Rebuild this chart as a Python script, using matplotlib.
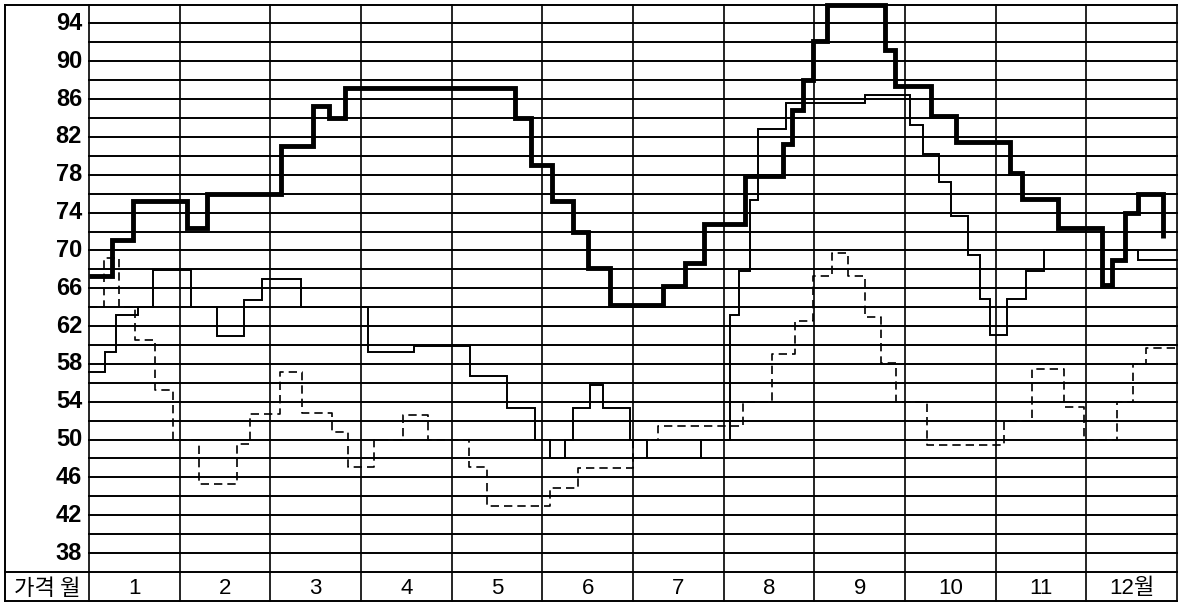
import numpy as np
import matplotlib.pyplot as plt

# step data: x = month position where a price level starts (0 = start of Jan), y = price
thick_x = [0, 0.25, 0.49, 1.08, 1.30, 2.12, 2.47, 2.65, 2.82, 4.70, 4.88, 5.11,
           5.34, 5.50, 5.75, 6.33, 6.57, 6.78, 7.23, 7.65, 7.75, 7.88, 7.99, 8.14,
           8.78, 8.89, 9.29, 9.56, 10.16, 10.29, 10.69, 11.17, 11.28, 11.43, 11.57, 11.84]
thick_y = [67.3, 71.1, 75.2, 72.4, 76.0, 81.0, 85.3, 84.0, 87.2, 84.0, 79.0, 75.2,
           72.0, 68.1, 64.2, 66.2, 68.7, 72.8, 77.9, 81.3, 84.9, 88.0, 92.1, 96.0,
           91.2, 87.4, 84.2, 81.5, 78.2, 75.4, 72.4, 66.3, 69.0, 74.0, 76.0, 71.3]

thin_x = [0, 0.18, 0.30, 0.54, 0.71, 1.13, 1.41, 1.71, 1.91, 2.34, 3.08, 3.58,
          4.20, 4.61, 4.92, 5.08, 5.25, 5.34, 5.53, 5.67, 5.97, 6.15, 6.75, 7.07,
          7.17, 7.29, 7.38, 7.69, 8.56, 9.06, 9.20, 9.38, 9.51, 9.70, 9.83, 9.94,
          10.13, 10.33, 10.53, 11.57, 12.0]
thin_y = [57.1, 59.3, 63.2, 64.0, 67.9, 64.0, 61.0, 64.8, 67.0, 64.0, 59.3, 59.9,
          56.7, 53.3, 50.0, 48.1, 50.0, 53.3, 55.8, 53.3, 50.0, 48.1, 50.0, 63.2,
          67.8, 75.3, 82.8, 85.6, 86.4, 83.3, 80.2, 77.2, 73.6, 69.5, 64.9, 61.1,
          64.9, 67.8, 70.0, 69.0, 69.0]

dash_x = [0, 0.17, 0.33, 0.51, 0.73, 0.93, 1.21, 1.63, 1.78, 2.11, 2.35, 2.68,
          2.86, 3.14, 3.46, 3.74, 4.19, 4.39, 5.09, 5.39, 6.00, 6.28, 7.21, 7.53,
          7.79, 7.99, 8.19, 8.37, 8.56, 8.73, 8.90, 9.24, 10.09, 10.40, 10.75, 10.97,
          11.34, 11.52, 11.66, 12.0]
dash_y = [64.0, 69.2, 64.0, 60.5, 55.2, 50.0, 45.3, 49.5, 52.7, 57.1, 52.8, 50.8,
          47.1, 50.0, 52.6, 50.0, 47.1, 43.0, 44.9, 47.0, 50.0, 51.4, 54.0, 59.0,
          62.5, 67.3, 69.7, 67.3, 63.0, 58.1, 54.0, 49.4, 52.0, 57.5, 53.4, 50.0,
          54.0, 58.0, 59.7, 59.7]

y_labels = list(range(38, 95, 4))
month_labels = ['1', '2', '3', '4', '5', '6', '7', '8', '9', '10', '11', '12월']

fig = plt.figure(figsize=(11.82, 6.03), dpi=100)
ax = fig.add_axes([0, 0, 1, 1])
ax.set_xlim(-0.9816, 12.055)
ax.set_ylim(32.72, 96.48)
ax.axis('off')

left = -0.926
bottom = 32.88

# grid
for v in np.arange(36, 97, 2):
    ax.plot([0, 12], [v, v], color='black', lw=1.4, zorder=1)
for m in range(13):
    ax.plot([m, m], [bottom, 96], color='black', lw=1.2, zorder=1)
ax.plot([left, 0], [96, 96], color='black', lw=1.4)
ax.plot([left, 0], [36, 36], color='black', lw=1.4)
ax.plot([left, 12], [bottom, bottom], color='black', lw=1.4)
ax.plot([left, left], [bottom, 96], color='black', lw=1.4)

# price lines
ax.step(thick_x, thick_y, where='post', color='black', lw=3.5,
        solid_joinstyle='miter', solid_capstyle='butt', zorder=4)
ax.step(thin_x, thin_y, where='post', color='black', lw=1.4,
        solid_joinstyle='miter', zorder=3)
ax.step(dash_x, dash_y, where='post', color='black', lw=1.2,
        linestyle=(0, (5, 3)), zorder=3)

# labels
for v in y_labels:
    ax.text(-0.077, v, str(v), ha='right', va='center', fontsize=17,
            fontweight='bold', family=['Liberation Sans', 'DejaVu Sans'])
for i, lab in enumerate(month_labels):
    ax.text(i + 0.5, 34.3, lab, ha='center', va='center', fontsize=16,
            family=['Liberation Sans', 'Noto Sans CJK KR'])
ax.text(left / 2, 34.3, '가격 월', ha='center', va='center', fontsize=16,
        family=['Noto Sans CJK KR'])

fig.savefig('out.png', dpi=100)
